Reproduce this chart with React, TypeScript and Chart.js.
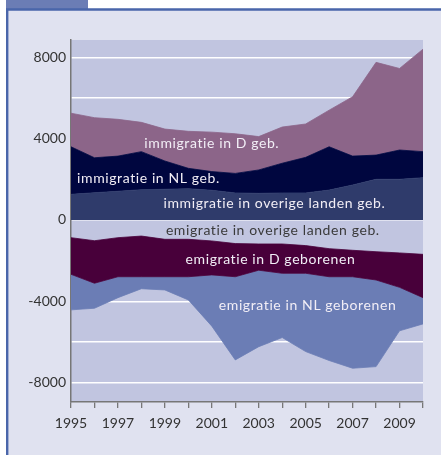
import React, { useEffect, useRef } from "react";
import { Chart, registerables } from "chart.js";

Chart.register(...registerables);

const years = [1995, 1996, 1997, 1998, 1999, 2000, 2001, 2002, 2003, 2004, 2005, 2006, 2007, 2008, 2009, 2010];

// immigration (stacked upward)
const immOverige = [1260, 1340, 1410, 1490, 1510, 1540, 1460, 1330, 1310, 1330, 1330, 1470, 1720, 2000, 2000, 2080];
const immNL = [2340, 1720, 1730, 1870, 1390, 1000, 920, 960, 1150, 1460, 1750, 2130, 1420, 1190, 1440, 1280];
const immD = [1650, 1970, 1810, 1440, 1570, 1820, 1940, 1950, 1640, 1780, 1640, 1800, 2920, 4560, 4010, 5040];

// emigration (stacked downward)
const emOverige = [-870, -1020, -870, -790, -950, -950, -1030, -1160, -1180, -1180, -1260, -1410, -1490, -1560, -1620, -1690];
const emD = [-1800, -2090, -1920, -2000, -1840, -1840, -1670, -1630, -1290, -1440, -1360, -1380, -1300, -1390, -1690, -2130];
const emNL = [-1750, -1230, -1030, -590, -650, -1140, -2520, -4090, -3760, -3160, -3850, -4120, -4500, -4260, -2140, -1290];

const seriesNames = [
  "immigratie in overige landen geb.",
  "immigratie in NL geb.",
  "immigratie in D geb.",
  "emigratie in overige landen geb.",
  "emigratie in D geborenen",
  "emigratie in NL geborenen",
];

const yGridValues = [-8000, -6000, -4000, -2000, 0, 2000, 4000, 6000, 8000];

const FONT = "Lato, 'Open Sans', sans-serif";

export default function App() {
  const ref = useRef<HTMLCanvasElement | null>(null);

  useEffect(() => {
    document.body.style.margin = "0";
    const canvas = ref.current;
    if (!canvas) return;

    const toPts = (arr: number[]) => arr.map((v, i) => ({ x: years[i], y: v }));

    const colors = {
      immOverige: "#2f3b6b",
      immNL: "#00063f",
      immD: "#8c6589",
      emOverige: "rgba(0,0,0,0)",
      emD: "#48003a",
      emNL: "#6b7db5",
    };

    const labelSpecs = [
      { text: seriesNames[2], x: 2001.0, y: 3780, color: "#f2eef6" },
      { text: seriesNames[1], x: 1998.3, y: 2060, color: "#f2eef6" },
      { text: seriesNames[0], x: 2003.67, y: 790, color: "#f2eef6" },
      { text: seriesNames[3], x: 2003.6, y: -525, color: "#3a3a3a" },
      { text: seriesNames[4], x: 2003.5, y: -1965, color: "#f2eef6" },
      { text: seriesNames[5], x: 2005.08, y: -4180, color: "#f2eef6" },
    ];

    const framePlugin = {
      id: "frame",
      beforeDraw(chart: any) {
        const ctx = chart.ctx;
        const { left, top, right, bottom } = chart.chartArea;
        ctx.save();
        ctx.fillStyle = "#ffffff";
        ctx.fillRect(0, 0, chart.width, chart.height);
        // tab
        ctx.fillStyle = "#6b7db5";
        ctx.fillRect(6, 0, 82, 9);
        // frame interior
        ctx.fillStyle = "#e0e2f0";
        ctx.fillRect(7, 9, chart.width, chart.height);
        // frame border
        ctx.strokeStyle = "#4a66aa";
        ctx.lineWidth = 2.4;
        ctx.beginPath();
        ctx.moveTo(7.2, chart.height + 5);
        ctx.lineTo(7.2, 9.5);
        ctx.lineTo(chart.width + 5, 9.5);
        ctx.stroke();
        // plot background
        ctx.fillStyle = "#c1c5e0";
        ctx.fillRect(left, top, right - left, bottom - top);
        ctx.restore();
      },
    };

    const labelPlugin = {
      id: "areaLabels",
      afterDatasetsDraw(chart: any) {
        const ctx = chart.ctx;
        const xs = chart.scales.x;
        const ys = chart.scales.y;
        ctx.save();
        ctx.font = `14px ${FONT}`;
        try {
          (ctx as any).letterSpacing = "0.6px";
        } catch (e) {}
        ctx.textAlign = "center";
        ctx.textBaseline = "middle";
        for (const l of labelSpecs) {
          ctx.fillStyle = l.color;
          ctx.fillText(l.text, xs.getPixelForValue(l.x), ys.getPixelForValue(l.y));
        }
        ctx.restore();
      },
    };

    const mk = (label: string, data: number[], color: string, fill: any, border: string) => ({
      label,
      data: toPts(data),
      backgroundColor: color,
      borderColor: border,
      borderWidth: 0.8,
      pointRadius: 0,
      tension: 0,
      fill,
    });

    const chart = new Chart(canvas, {
      type: "line",
      data: {
        datasets: [
          mk(seriesNames[0], immOverige, colors.immOverige, "origin", colors.immOverige),
          mk(seriesNames[1], immNL, colors.immNL, "-1", colors.immNL),
          mk(seriesNames[2], immD, colors.immD, "-1", colors.immD),
          mk(seriesNames[3], emOverige, colors.emOverige, "origin", colors.emD),
          mk(seriesNames[4], emD, colors.emD, "-1", colors.emD),
          mk(seriesNames[5], emNL, colors.emNL, "-1", colors.emNL),
        ] as any,
      },
      options: {
        animation: false,
        responsive: false,
        maintainAspectRatio: false,
        layout: { padding: { left: 8, top: 40, right: 18, bottom: 0 } },
        plugins: {
          legend: { display: false },
          tooltip: { enabled: false },
        },
        scales: {
          x: {
            type: "linear",
            min: 1995,
            max: 2010,
            afterFit: (s: any) => {
              s.height = 53;
            },
            ticks: {
              stepSize: 1,
              autoSkip: false,
              maxRotation: 0,
              padding: 7,
              color: "#333333",
              font: { family: FONT, size: 14 },
              callback: (v: any) => (Number(v) % 2 === 1 ? String(v) : ""),
            },
            grid: {
              drawOnChartArea: false,
              drawTicks: true,
              tickLength: 6,
              color: "#777777",
              lineWidth: 1.3,
            },
            border: { display: true, color: "#777777", width: 1.5 },
          },
          y: {
            type: "linear",
            stacked: true,
            min: -8950,
            max: 8850,
            afterFit: (s: any) => {
              s.width = 63;
            },
            afterBuildTicks: (s: any) => {
              s.ticks = yGridValues.map((v) => ({ value: v }));
            },
            ticks: {
              padding: 5,
              color: "#333333",
              font: { family: FONT, size: 14 },
              callback: (v: any) => (Number(v) % 4000 === 0 ? String(v) : ""),
            },
            grid: {
              color: "#ffffff",
              lineWidth: 1.4,
              drawTicks: false,
            },
            border: { display: true, color: "#777777", width: 1.5 },
          },
        },
      } as any,
      plugins: [framePlugin, labelPlugin],
    });

    return () => chart.destroy();
  }, []);

  return (
    <div style={{ position: "absolute", left: 0, top: 0, width: 441, height: 455 }}>
      <canvas ref={ref} width={441} height={455} style={{ width: 441, height: 455, display: "block" }} />
    </div>
  );
}
